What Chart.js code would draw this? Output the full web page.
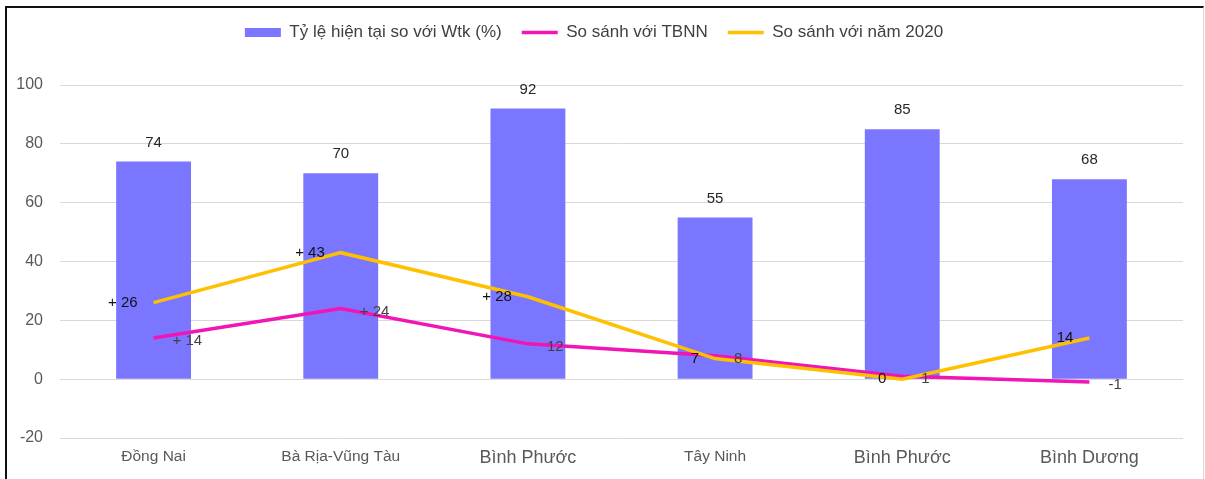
<!DOCTYPE html>
<html>
<head>
<meta charset="utf-8">
<script src="https://cdn.jsdelivr.net/npm/chart.js@4.4.1/dist/chart.umd.min.js"></script>
<style>
  html, body { margin: 0; padding: 0; background: #fff; }
  #wrap { position: relative; width: 1205px; height: 479px; overflow: hidden; }
  #frame { position: absolute; left: 5px; top: 6px; width: 1196px; height: 480px;
    border-top: 2px solid #111; border-left: 2px solid #111; border-right: 1px solid #d9d9d9;
    pointer-events: none; }
</style>
</head>
<body>
<div id="wrap">
  <canvas id="chart" width="1205" height="479"></canvas>
  <div id="frame"></div>
</div>
<script>
// dữ liệu
const provinces = ['Đồng Nai', 'Bà Rịa-Vũng Tàu', 'Bình Phước', 'Tây Ninh', 'Bình Phước', 'Bình Dương'];
const ratioWtk = [74, 70, 92, 55, 85, 68];
const vsTBNN = [14, 24, 12, 8, 1, -1];
const vs2020 = [26, 43, 28, 7, 0, 14];
const tbnnLabels = ['+ 14', '+ 24', '12', '8', '1', '-1'];
const y2020Labels = ['+ 26', '+ 43', '+ 28', '7', '0', '14'];
const yTicks = [-20, 0, 20, 40, 60, 80, 100];
const bigLabel = [false, false, true, false, true, true];

// vẽ nhãn số liệu
const valueLabels = {
  id: 'valueLabels',
  afterDatasetsDraw(chart) {
    const c = chart.ctx;
    c.save();
    c.font = '15px "Liberation Sans", sans-serif';
    c.textBaseline = 'middle';

    chart.getDatasetMeta(0).data.forEach(function (bar, i) {
      c.fillStyle = '#262626';
      c.textAlign = 'center';
      c.fillText(String(ratioWtk[i]), bar.x, bar.y - 19);
    });
    chart.getDatasetMeta(1).data.forEach(function (pt, i) {
      c.fillStyle = '#404040';
      c.textAlign = 'left';
      c.fillText(tbnnLabels[i], pt.x + 19, pt.y + 3);
    });
    chart.getDatasetMeta(2).data.forEach(function (pt, i) {
      c.fillStyle = '#111';
      c.textAlign = 'right';
      c.fillText(y2020Labels[i], pt.x - 16, pt.y);
    });
    c.restore();
  }
};

const legendMargin = {
  id: 'legendMargin',
  beforeInit(chart) {
    const fit = chart.legend.fit;
    chart.legend.fit = function () {
      fit.bind(chart.legend)();
      this.height += 34;
    };
  }
};

new Chart(document.getElementById('chart'), {
  type: 'bar',
  data: {
    labels: provinces,
    datasets: [{
      label: 'Tỷ lệ hiện tại so với Wtk (%)',
      data: ratioWtk,
      backgroundColor: '#7b76ff',
      borderWidth: 0,
      barPercentage: 0.8,
      categoryPercentage: 0.5,
      order: 3,
      pointStyle: 'rect'
    }, {
      type: 'line',
      label: 'So sánh với TBNN',
      data: vsTBNN,
      borderColor: '#f015b4',
      backgroundColor: '#f015b4',
      borderWidth: 3.5,
      pointRadius: 0,
      tension: 0,
      order: 2,
      pointStyle: 'line'
    }, {
      type: 'line',
      label: 'So sánh với năm 2020',
      data: vs2020,
      borderColor: '#ffc000',
      backgroundColor: '#ffc000',
      borderWidth: 3.5,
      pointRadius: 0,
      tension: 0,
      order: 1,
      pointStyle: 'line'
    }]
  },
  options: {
    responsive: false,
    animation: false,
    layout: { padding: { top: 4, left: 5, right: 22, bottom: 0 } },
    plugins: {
      tooltip: { enabled: false },
      legend: {
        position: 'top',
        labels: {
          usePointStyle: true,
          pointStyleWidth: 36,
          boxHeight: 9,
          padding: 20,
          color: '#404040',
          font: { size: 17, family: '"Liberation Sans", sans-serif' },
          sort: (a, b) => a.datasetIndex - b.datasetIndex
        }
      }
    },
    scales: {
      x: {
        grid: { display: false },
        border: { display: false },
        ticks: {
          padding: 1,
          color: '#595959',
          font: (ctx) => ({
            size: bigLabel[ctx.index] ? 18 : 15.5,
            family: '"Liberation Sans", sans-serif'
          })
        },
        afterFit(scale) { scale.height = 41; }
      },
      y: {
        min: -20,
        max: 100,
        afterBuildTicks(scale) { scale.ticks = yTicks.map(v => ({ value: v })); },
        grid: { color: '#d9d9d9', lineWidth: 1, drawTicks: false },
        border: { display: false },
        ticks: {
          padding: 17,
          color: '#595959',
          font: { size: 16, family: '"Liberation Sans", sans-serif' }
        },
        afterFit(scale) { scale.width = 55; }
      }
    }
  },
  plugins: [valueLabels, legendMargin]
});
</script>
</body>
</html>
